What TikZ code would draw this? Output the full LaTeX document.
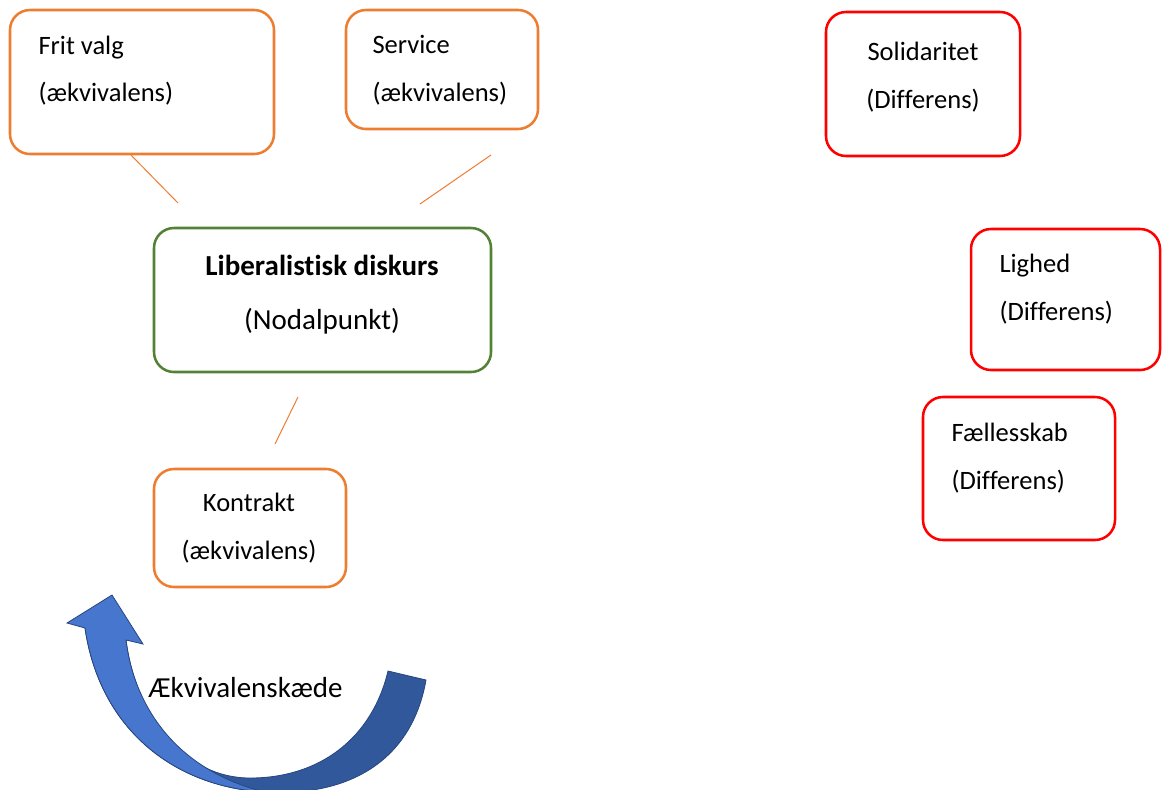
\documentclass[tikz,border=0pt]{standalone}
\usepackage{fontspec}
\setmainfont{Carlito}[Ligatures=NoCommon]
\definecolor{eqorange}{RGB}{237,125,49}
\definecolor{nodgreen}{RGB}{84,130,53}
\definecolor{difred}{RGB}{255,0,0}
\definecolor{arrlight}{RGB}{70,118,206}
\definecolor{arrdark}{RGB}{50,88,156}
\tikzset{every picture/.style={line width=0.75pt}}
\tikzset{
  eqbox/.style={draw=eqorange, line width=1.9pt, rounded corners=15pt, inner sep=0pt},
  nodbox/.style={draw=nodgreen, line width=1.9pt, rounded corners=15pt, inner sep=0pt},
  difbox/.style={draw=difred, line width=1.9pt, rounded corners=15pt, inner sep=0pt},
  boxtext/.style={inner sep=0pt, font=\fontsize{19.9}{24}\selectfont},
  nodtext/.style={inner sep=0pt, font=\fontsize{21.75}{26}\selectfont},
  eqline/.style={draw=eqorange, line width=0.75pt},
  arredge/.style={draw=arrdark!80!black, line width=0.6pt}
}

\begin{document}
\begin{tikzpicture}[x=0.75pt,y=0.75pt,yscale=-1,xscale=1]
\useasboundingbox (0,0) rectangle (1162,789);

%Shape: Boxes (aekvivalens)
\node[eqbox, minimum width=198pt, minimum height=108pt] (frit) at (142,82) {};
\node[eqbox, minimum width=144pt, minimum height=89.25pt] (service) at (442,69.5) {};
\node[eqbox, minimum width=144pt, minimum height=88.5pt] (kontrakt) at (250,528) {};
%Shape: Box (nodalpunkt)
\node[nodbox, minimum width=252.75pt, minimum height=108pt] (liberal) at (322.5,300) {};
%Shape: Boxes (differens)
\node[difbox, minimum width=145.5pt, minimum height=108pt] (solid) at (923,84) {};
\node[difbox, minimum width=141.75pt, minimum height=105.75pt] (lighed) at (1065.5,299.5) {};
\node[difbox, minimum width=144pt, minimum height=107.25pt] (faelles) at (1019,468.5) {};

%Straight Lines
\coordinate (fritA) at (130,154);
\coordinate (fritB) at (178,203);
\coordinate (serviceA) at (491,155);
\coordinate (serviceB) at (420,204);
\coordinate (kontraktA) at (298,397);
\coordinate (kontraktB) at (275,444);
\draw[eqline] (fritA) -- (fritB);
\draw[eqline] (serviceA) -- (serviceB);
\draw[eqline] (kontraktA) -- (kontraktB);

%Shape: Curved Arrow
\begin{scope}
\clip (0,0) rectangle (1162,789);
% back face
\filldraw[fill=arrdark, arredge] (85,628) .. controls (100,730) and (175,787) .. (265,792) .. controls (350,797) and (412,760) .. (426,680) -- (388,671) .. controls (372,738) and (320,778) .. (250,778) .. controls (185,778) and (136,718) .. (126,640) -- cycle;
% front face with head
\filldraw[fill=arrlight, arredge] (85,628) .. controls (100,730) and (175,787) .. (265,792) .. controls (175,770) and (134,705) .. (126,640) -- (143,644) -- (112,595) -- (67,623) -- cycle;
\end{scope}

% Text Node
\node[boxtext, anchor=base west] (fritT1) at (38,54) {Frit valg};
\node[boxtext, anchor=base west] (fritT2) at (38,101) {(ækvivalens)};
\node[boxtext, anchor=base west] (serviceT1) at (372,53) {Service};
\node[boxtext, anchor=base west] (serviceT2) at (372,101) {(ækvivalens)};
\node[nodtext, anchor=base] (liberalT1) at (322,275) {\bfseries Liberalistisk diskurs};
\node[nodtext, anchor=base] (liberalT2) at (322,329) {(Nodalpunkt)};
\node[boxtext, anchor=base] (kontraktT1) at (249,511) {Kontrakt};
\node[boxtext, anchor=base] (kontraktT2) at (249,559) {(ækvivalens)};
\node[boxtext, anchor=base] (solidT1) at (923,60) {Solidaritet};
\node[boxtext, anchor=base] (solidT2) at (923,108) {(Differens)};
\node[boxtext, anchor=base west] (lighedT1) at (999,272) {Lighed};
\node[boxtext, anchor=base west] (lighedT2) at (999,320) {(Differens)};
\node[boxtext, anchor=base west] (faellesT1) at (951,441) {Fællesskab};
\node[boxtext, anchor=base west] (faellesT2) at (951,489) {(Differens)};
\node[nodtext, anchor=base west] (kaede) at (148,697) {Ækvivalenskæde};

\end{tikzpicture}
\end{document}
